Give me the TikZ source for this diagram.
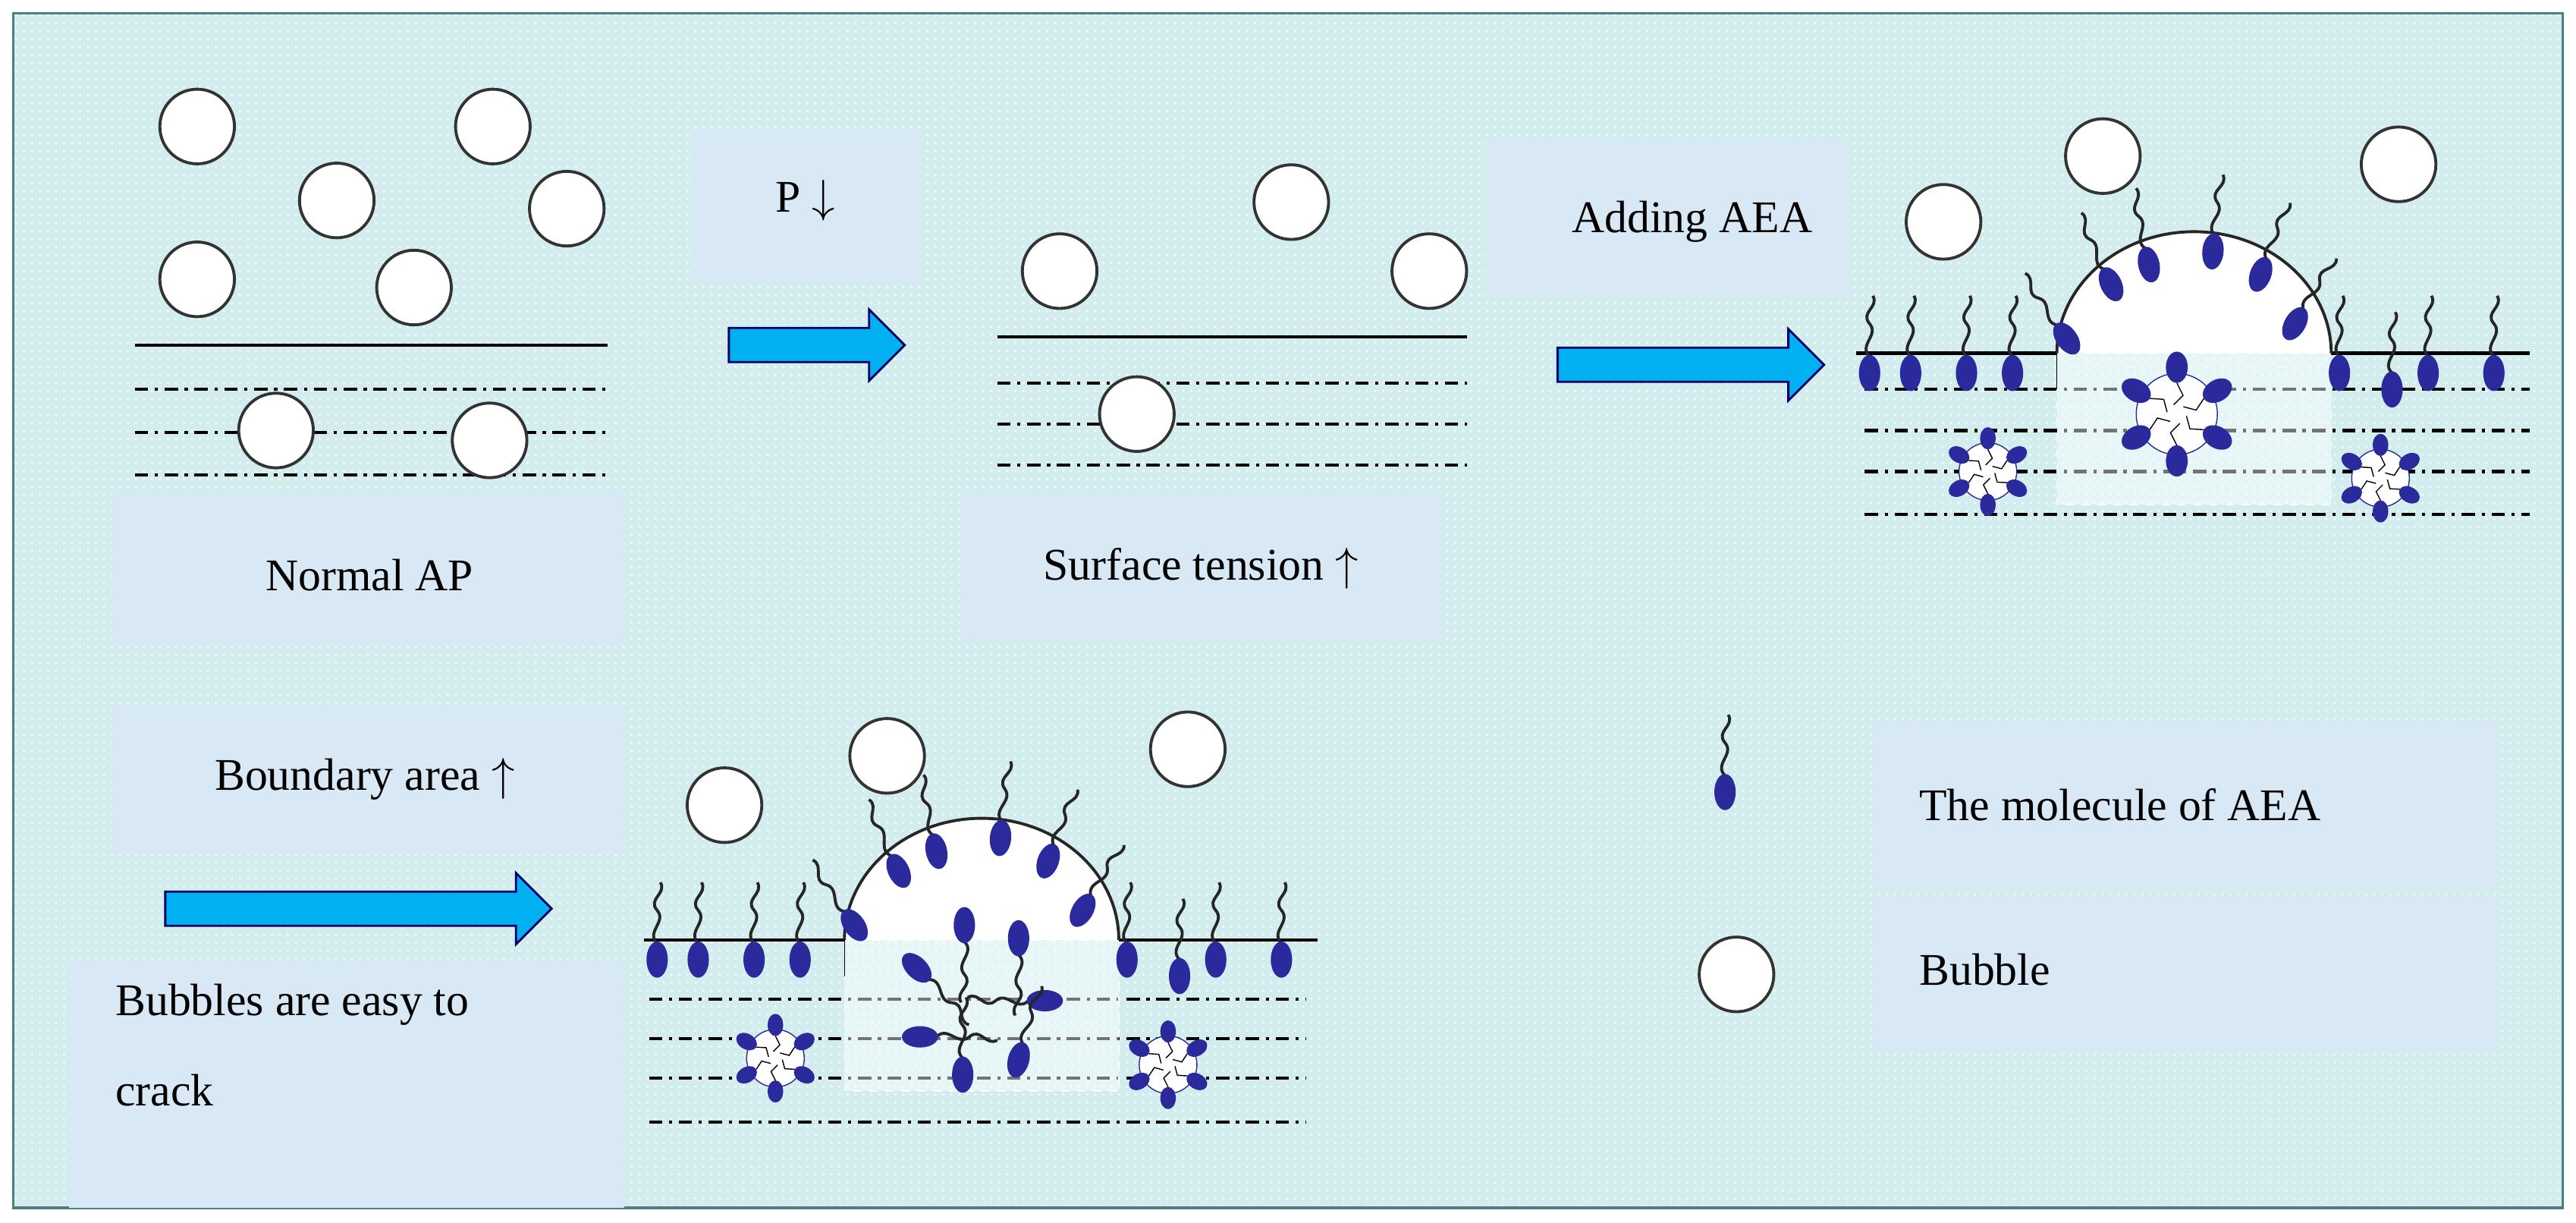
\documentclass[tikz,border=0pt]{standalone}
\usepackage{fontspec}
\setmainfont{Liberation Serif}
\usetikzlibrary{shapes.arrows,patterns}
\definecolor{bgc}{HTML}{D3EDEF}
\definecolor{boxc}{HTML}{D9E8F5}
\definecolor{navy}{HTML}{2A2A9C}
\definecolor{arrc}{HTML}{00B0F0}
\tikzset{
  label box/.style={fill=boxc, draw=none},
  txt/.style={font=\fontsize{17}{20}\selectfont, inner sep=0pt},
  bubble/.style={circle, draw=black!80, fill=white, line width=1.1pt, minimum size=28pt, inner sep=0pt},
  layer/.style={line width=1.2pt, dash pattern=on 5pt off 2.5pt on 1.2pt off 2.5pt},
  surface/.style={line width=1.3pt},
  push/.style={single arrow, fill=arrc, draw=black!60!blue, line width=0.8pt, single arrow head extend=7pt, inner xsep=0pt, inner ysep=6pt, single arrow tip angle=90},
  tail/.style={line width=1.1pt, black!85},
  aea/.pic={\draw[tail] (0,-10) .. controls (-7,-17) and (6,-23) .. (0,-30) .. controls (-6,-37) and (6,-40) .. (2,-47);
    \fill[navy] (0,0) ellipse (6.5 and 11);},
  micelle/.pic={\draw[navy, thin, fill=white] (0,0) circle (13);
    \foreach \a in {0,60,...,300}{
      \fill[navy, rotate=\a] (0,-15) ellipse (3.5 and 5);
      \draw[thin, rotate=\a] (0,-10) -- (2,-6) -- (-1,-3);}}
}
% interface with dome, relative to the dome centre
\newcommand{\aeainterface}{%
  \fill[white, opacity=0.45] (-83,0) rectangle (84,92);
  \draw[white, dashed, thin] (-83,0) rectangle (84,92);
  \draw[surface] (-205,0) -- (-83,0);
  \draw[surface] (84,0) -- (205,0);
  \draw[black!85, line width=1.1pt, fill=white] (-83,0) arc[start angle=180, end angle=360, x radius=83.5, y radius=74];
  \draw[thin] (-83,0) -- (-83,22);
  \foreach \x in {-197,-172,-138,-110} \pic at (\x,12) {aea};
  \foreach \x/\y in {89/12,121/22,143/12,183/12} \pic at (\x,\y) {aea};
  \foreach \x/\y/\r in {-77/-9/35,-50/-42/25,-27/-54/12,12/-62/-5,41/-48/-20,62/-18/-30}
    \pic[rotate=\r] at (\x,\y) {aea};
  \pic[scale=1.35] at (-125,72) {micelle};
  \pic[scale=1.35] at (114,76) {micelle};
}
\begin{document}
\begin{tikzpicture}[x=0.02166cm, y=-0.02166cm]
\useasboundingbox (0,0) rectangle (1568,744);
\fill[white] (0,0) rectangle (1568,744);
\draw[fill=bgc, draw=teal!40!gray, line width=1pt] (8,8) rectangle (1560,735);
\fill[pattern=dots, pattern color=white!70!bgc] (9,9) rectangle (1559,734);

% label boxes
\fill[label box] (68,300) rectangle (380,392);
\fill[label box] (422,80) rectangle (560,172);
\fill[label box] (585,300) rectangle (878,390);
\fill[label box] (905,85) rectangle (1125,180);
\fill[label box] (68,430) rectangle (380,520);
\fill[label box] (42,585) rectangle (380,735);
\fill[label box] (1140,440) rectangle (1520,540);
\fill[label box] (1140,545) rectangle (1520,640);

\node[txt] (normal) at (225,350) {Normal AP};
\node[txt] (press) at (490,122) {P $\downarrow$};
\node[txt] (tension) at (731,346) {Surface tension $\uparrow$};
\node[txt] (adding) at (1030,135) {Adding AEA};
\node[txt] (boundary) at (222,474) {Boundary area $\uparrow$};
\node[txt, anchor=west, align=left] (crack) at (70,636) {Bubbles are easy to\\[14pt]crack};
\node[txt, anchor=west] (molkey) at (1168,490) {The molecule of AEA};
\node[txt, anchor=west] (bubkey) at (1168,590) {Bubble};

% arrows
\node[push, minimum height=66pt] (go1) at (492,210) {};
\node[push, minimum height=100pt] (go2) at (1024,222) {};
\node[push, minimum height=145pt] (go3) at (213,553) {};

% panel 1: normal
\draw[surface] (82,210) -- (370,210);
\foreach \y in {237,263,289} \draw[layer] (82,\y) -- (370,\y);
\foreach \x/\y [count=\i] in {120/77,300/77,205/122,345/127,120/170,252/175,168/262,298/268}
  \node[bubble] (b\i) at (\x,\y) {};

% panel 2: surface tension
\draw[surface] (607,205) -- (893,205);
\foreach \y in {233,258,283} \draw[layer] (607,\y) -- (893,\y);
\foreach \x/\y [count=\i] in {786/123,645/165,870/165,692/252}
  \node[bubble] (s\i) at (\x,\y) {};

% panel 3: adding AEA
\foreach \y in {237,262,287,313} \draw[layer] (1135,\y) -- (1540,\y);
\begin{scope}[shift={(1335,215)}]
  \aeainterface
  \pic[scale=1.9] at (-10,37) {micelle};
\end{scope}
\foreach \x/\y [count=\i] in {1183/135,1280/95,1460/100}
  \node[bubble] (a\i) at (\x,\y) {};

% panel 4: cracking
\foreach \y in {608,632,656,683} \draw[layer] (395,\y) -- (795,\y);
\begin{scope}[shift={(597,572)}]
  \aeainterface
  \foreach \x/\y/\r in {-10/-9/180,23/-1/180,-39/17/225,39/37/90,-37/59/270,-11/82/0,23/73/-15}
    \pic[rotate=\r] at (\x,\y) {aea};
\end{scope}
\foreach \x/\y [count=\i] in {441/490,540/460,723/456}
  \node[bubble] (c\i) at (\x,\y) {};

% legend
\pic at (1050,482) {aea};
\node[bubble] (key) at (1057,593) {};
\end{tikzpicture}
\end{document}
